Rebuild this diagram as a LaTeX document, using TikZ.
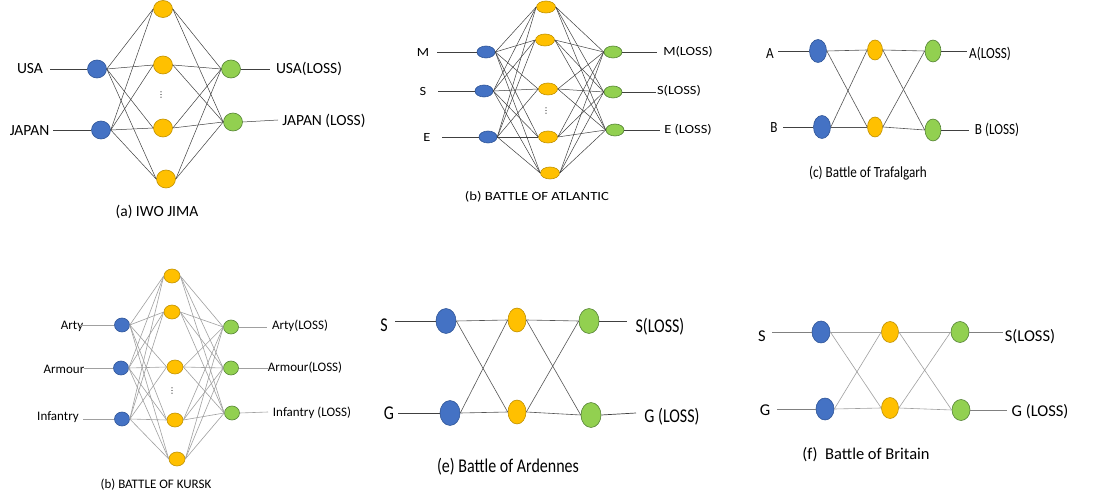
\documentclass[tikz,border=0pt]{standalone}
\usepackage{fontspec}
\setmainfont{Carlito}
\newfontfamily\dejavu{DejaVu Sans}
\usepackage{graphicx}
\usetikzlibrary{shapes.geometric}
\definecolor{nblue}{HTML}{4472C4}
\definecolor{nbluee}{HTML}{2F5597}
\definecolor{nyel}{HTML}{FFC000}
\definecolor{nyele}{HTML}{BF9000}
\definecolor{ngrn}{HTML}{92D050}
\definecolor{ngrne}{HTML}{548235}
\definecolor{wdark}{HTML}{404040}
\definecolor{wmid}{HTML}{555555}
\definecolor{wlight}{HTML}{A0A0A0}
\newcommand\hs[2]{\scalebox{#1}[1]{#2}}
\begin{document}
\begin{tikzpicture}[x=1pt,y=-1pt,
  neuron/.style={ellipse, inner sep=0pt, line width=0.6pt},
  bn/.style={neuron, fill=nblue, draw=nbluee},
  yn/.style={neuron, fill=nyel, draw=nyele},
  gn/.style={neuron, fill=ngrn, draw=ngrne},
  sz/.style 2 args={minimum width=#1pt, minimum height=#2pt},
  wire/.style={draw=wdark, line width=0.5pt},
  mwire/.style={draw=wmid, line width=0.6pt},
  lwire/.style={draw=wlight, line width=0.6pt},
  txt/.style={inner sep=0pt, text=black},
  dots/.style={txt, font=\dejavu\fontsize{8}{9}\selectfont},
  fa/.style={txt, font=\fontsize{15.5}{17}\selectfont},
  fb/.style={txt, font=\fontsize{12.5}{14}\selectfont},
  fc/.style={txt, font=\fontsize{15.5}{17}\selectfont},
  fd/.style={txt, font=\fontsize{13}{15}\selectfont},
  fe/.style={txt, font=\fontsize{19.5}{21}\selectfont},
  ff/.style={txt, font=\fontsize{16.5}{18}\selectfont},
]
\fill[white] (0,0) rectangle (1116,502);
\useasboundingbox (0,0) rectangle (1116,502);

% ---------------- (a) IWO JIMA ----------------
\node[bn, sz={19}{18}] (a1) at (97,69) {};
\node[bn, sz={19}{18}] (a2) at (101,130) {};
\node[yn, sz={19}{17}] (ah1) at (163,9) {};
\node[yn, sz={19}{18}] (ah2) at (163,65) {};
\node[yn, sz={19}{18}] (ah3) at (163,128) {};
\node[yn, sz={19}{18}] (ah4) at (166,179) {};
\node[gn, sz={19}{18}] (ao1) at (231,69) {};
\node[gn, sz={19}{18}] (ao2) at (233,122) {};
\node[dots] (adots) at (161,95) {⋮};
\node[fa] (al1) at (30,69) {USA};
\node[fa] (al2) at (29.5,131) {JAPAN};
\node[fa] (ar1) at (309,69) {USA(LOSS)};
\node[fa] (ar2) at (324,121) {JAPAN (LOSS)};
\node[fa] (acap) at (157,212) {(a) IWO JIMA};
\coordinate (ai1) at (50,69);
\coordinate (ai2) at (53,130);
\coordinate (ae1) at (270,69);
\coordinate (ae2) at (278,120);
\draw[wire] (ai1) -- (a1.west);
\draw[wire] (ai2) -- (a2.west);
\draw[wire] (ao1.east) -- (ae1);
\draw[wire] (ao2.east) -- (ae2);
\foreach \i in {1,2} \foreach \j in {1,...,4} \draw[wire] (a\i.east) -- (ah\j.west);
\foreach \j in {1,...,4} \foreach \k in {1,2} \draw[wire] (ah\j.east) -- (ao\k.west);

% ---------------- (b) BATTLE OF ATLANTIC ----------------
\node[bn, sz={18}{12}] (b1) at (486,52) {};
\node[bn, sz={18}{12}] (b2) at (484,91) {};
\node[bn, sz={18}{12}] (b3) at (488,137) {};
\node[yn, sz={19}{12}] (bh1) at (546,7) {};
\node[yn, sz={19}{12}] (bh2) at (545,40) {};
\node[yn, sz={19}{12}] (bh3) at (548,89) {};
\node[yn, sz={19}{12}] (bh4) at (548,137) {};
\node[yn, sz={19}{12}] (bh5) at (550,173) {};
\node[gn, sz={18}{12}] (bo1) at (613,52) {};
\node[gn, sz={18}{12}] (bo2) at (613,92) {};
\node[gn, sz={18}{12}] (bo3) at (615,130) {};
\node[dots] (bdots) at (546,111) {⋮};
\node[fb] (bl1) at (423,52) {\hs{1.15}{M}};
\node[fb] (bl2) at (423,91) {\hs{1.15}{S}};
\node[fb] (bl3) at (427,137) {\hs{1.15}{E}};
\node[fb] (br1) at (688,52) {\hs{1.15}{M(LOSS)}};
\node[fb] (br2) at (679,91) {\hs{1.15}{S(LOSS)}};
\node[fb] (br3) at (688,130) {\hs{1.15}{E (LOSS)}};
\node[fb] (bcap) at (537,197) {\hs{1.18}{(b) BATTLE OF ATLANTIC}};
\coordinate (bi1) at (437,52);
\coordinate (bi2) at (438,91);
\coordinate (bi3) at (442,137);
\coordinate (be1) at (657,52);
\coordinate (be2) at (656,92);
\coordinate (be3) at (660,130);
\foreach \i in {1,2,3} \draw[wire] (bi\i) -- (b\i.west);
\foreach \i in {1,2,3} \draw[wire] (bo\i.east) -- (be\i);
\foreach \i in {1,2,3} \foreach \j in {1,...,5} \draw[wire] (b\i.east) -- (bh\j.west);
\foreach \j in {1,...,5} \foreach \k in {1,2,3} \draw[wire] (bh\j.east) -- (bo\k.west);

% ---------------- (c) Battle of Trafalgarh ----------------
\node[bn, sz={17}{23}] (c1) at (818,51) {};
\node[bn, sz={17}{23}] (c2) at (822,127) {};
\node[yn, sz={15}{20}] (ch1) at (875,50) {};
\node[yn, sz={15}{20}] (ch2) at (875,127) {};
\node[gn, sz={16}{22}] (co1) at (933,51) {};
\node[gn, sz={16}{22}] (co2) at (933,130) {};
\node[fc] (cl1) at (770,54) {\hs{0.85}{A}};
\node[fc] (cl2) at (774,128) {\hs{0.85}{B}};
\node[fc] (cr1) at (990,54) {\hs{0.85}{A(LOSS)}};
\node[fc] (cr2) at (997,130) {\hs{0.85}{B (LOSS)}};
\node[fc] (ccap) at (868,173) {\hs{0.85}{(c) Battle of Trafalgarh}};
\coordinate (ci1) at (778,51);
\coordinate (ci2) at (783,127);
\coordinate (ce1) at (967,51);
\coordinate (ce2) at (969,130);
\foreach \i in {1,2} \draw[wire] (ci\i) -- (c\i.west);
\foreach \i in {1,2} \draw[wire] (co\i.east) -- (ce\i);
\foreach \i in {1,2} \foreach \j in {1,2} \draw[mwire] (c\i.east) -- (ch\j.west);
\foreach \j in {1,2} \foreach \k in {1,2} \draw[mwire] (ch\j.east) -- (co\k.west);

% ---------------- (b) BATTLE OF KURSK ----------------
\node[bn, sz={15}{14}] (d1) at (122,325) {};
\node[bn, sz={15}{14}] (d2) at (121,368) {};
\node[bn, sz={15}{14}] (d3) at (122,419) {};
\node[yn, sz={16}{14}] (dh1) at (172,276) {};
\node[yn, sz={16}{14}] (dh2) at (172,312) {};
\node[yn, sz={16}{14}] (dh3) at (175,367) {};
\node[yn, sz={16}{14}] (dh4) at (175,420) {};
\node[yn, sz={16}{14}] (dh5) at (177,459) {};
\node[gn, sz={15}{14}] (do1) at (231,327) {};
\node[gn, sz={15}{14}] (do2) at (231,368) {};
\node[gn, sz={15}{14}] (do3) at (232,413) {};
\node[dots] (ddots) at (172,391) {⋮};
\node[fd] (dl1) at (72,326) {Arty};
\node[fd] (dl2) at (64,369) {Armour};
\node[fd] (dl3) at (58,417) {Infantry};
\node[fd] (dr1) at (300,326) {Arty(LOSS)};
\node[fd] (dr2) at (305,368) {Armour(LOSS)};
\node[fd] (dr3) at (312,413) {Infantry (LOSS)};
\node[fd] (dcap) at (156,485) {(b) BATTLE OF KURSK};
\coordinate (di1) at (80,325);
\coordinate (di2) at (84,368);
\coordinate (di3) at (83,419);
\coordinate (de1) at (267,327);
\coordinate (de2) at (268,368);
\coordinate (de3) at (268,412);
\foreach \i in {1,2,3} \draw[lwire] (di\i) -- (d\i.west);
\foreach \i in {1,2,3} \draw[lwire] (do\i.east) -- (de\i);
\foreach \i in {1,2,3} \foreach \j in {1,...,5} \draw[lwire] (d\i.east) -- (dh\j.west);
\foreach \j in {1,...,5} \foreach \k in {1,2,3} \draw[lwire] (dh\j.east) -- (do\k.west);

% ---------------- (e) Battle of Ardennes ----------------
\node[bn, sz={20}{25}] (e1) at (446,321) {};
\node[bn, sz={20}{25}] (e2) at (450,413) {};
\node[yn, sz={18}{24}] (eh1) at (517,320) {};
\node[yn, sz={18}{24}] (eh2) at (517,412) {};
\node[gn, sz={20}{25}] (eo1) at (589,321) {};
\node[gn, sz={20}{25}] (eo2) at (591,415) {};
\node[fe] (el1) at (384,325) {\hs{0.82}{S}};
\node[fe] (el2) at (389,413) {\hs{0.82}{G}};
\node[fe] (er1) at (660,327) {\hs{0.82}{S(LOSS)}};
\node[fe] (er2) at (672,417) {\hs{0.82}{G (LOSS)}};
\node[fe] (ecap) at (508,467) {\hs{0.82}{(e) Battle of Ardennes}};
\coordinate (ei1) at (395,321);
\coordinate (ei2) at (398,413);
\coordinate (ee1) at (627,321);
\coordinate (ee2) at (636,413);
\foreach \i in {1,2} \draw[wire, line width=0.7pt] (ei\i) -- (e\i.west);
\foreach \i in {1,2} \draw[wire, line width=0.7pt] (eo\i.east) -- (ee\i);
\foreach \i in {1,2} \foreach \j in {1,2} \draw[mwire] (e\i.east) -- (eh\j.west);
\foreach \j in {1,2} \foreach \k in {1,2} \draw[mwire] (eh\j.east) -- (eo\k.west);

% ---------------- (f) Battle of Britain ----------------
\node[bn, sz={18}{22}] (f1) at (821,332) {};
\node[bn, sz={18}{22}] (f2) at (825,409) {};
\node[yn, sz={17}{21}] (fh1) at (890,332) {};
\node[yn, sz={17}{21}] (fh2) at (890,408) {};
\node[gn, sz={18}{21}] (fo1) at (960,332) {};
\node[gn, sz={18}{21}] (fo2) at (961,410) {};
\node[ff] (fl1) at (762,336) {S};
\node[ff] (fl2) at (765,410) {G};
\node[ff] (fr1) at (1030,337) {S(LOSS)};
\node[ff] (fr2) at (1040,412) {G (LOSS)};
\node[ff] (fcap) at (866,455) {(f)~~Battle of Britain};
\coordinate (fi1) at (772,332);
\coordinate (fi2) at (777,409);
\coordinate (fe1) at (1003,332);
\coordinate (fe2) at (1007,410);
\foreach \i in {1,2} \draw[lwire, draw=gray] (fi\i) -- (f\i.west);
\foreach \i in {1,2} \draw[lwire, draw=gray] (fo\i.east) -- (fe\i);
\foreach \i in {1,2} \foreach \j in {1,2} \draw[lwire] (f\i.east) -- (fh\j.west);
\foreach \j in {1,2} \foreach \k in {1,2} \draw[lwire] (fh\j.east) -- (fo\k.west);
\end{tikzpicture}
\end{document}
